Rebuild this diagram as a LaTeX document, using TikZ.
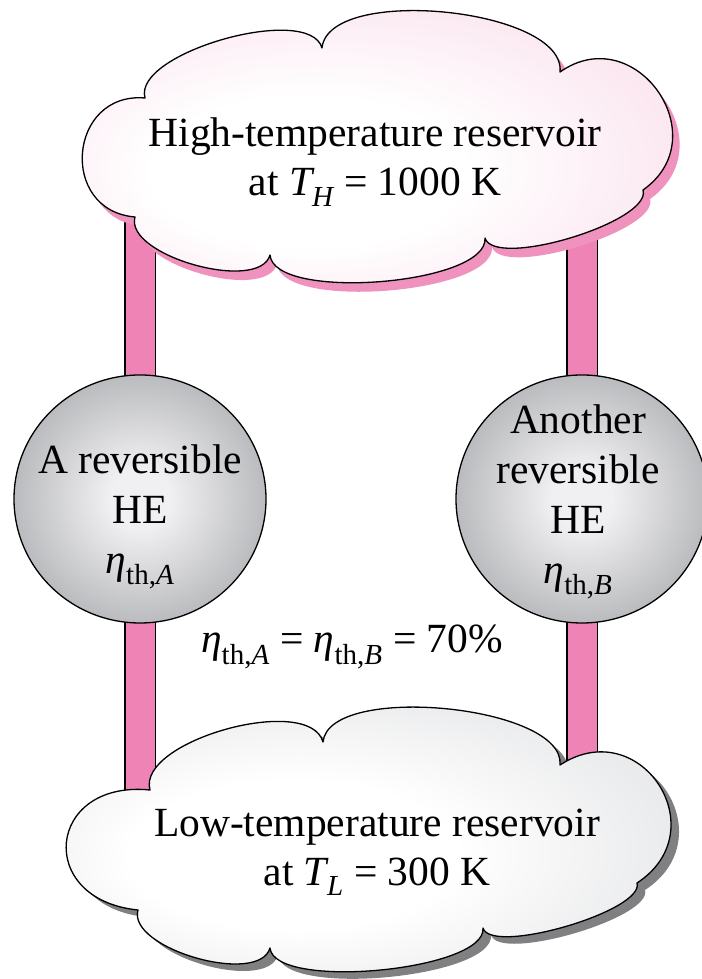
\documentclass[tikz,border=0pt]{standalone}
\usepackage{fontspec}
\setmainfont{Liberation Serif}
\usetikzlibrary{calc,shapes.geometric,backgrounds}

\definecolor{pipepink}{RGB}{240,131,181}
\definecolor{hotshadow}{RGB}{239,146,189}
\definecolor{hotedge}{RGB}{245,192,218}
\definecolor{coldshadow}{RGB}{128,128,130}
\definecolor{coldedge}{RGB}{198,200,204}
\definecolor{engcenter}{RGB}{240,240,242}
\definecolor{engedge}{RGB}{116,118,122}

\pgfdeclareradialshading{hotshade}{\pgfpoint{-8bp}{-6bp}}{color(0bp)=(white); color(12bp)=(white); color(50bp)=(hotedge)}
\pgfdeclareradialshading{coldshade}{\pgfpoint{-8bp}{-4bp}}{color(0bp)=(white); color(12bp)=(white); color(50bp)=(coldedge)}
\pgfdeclareradialshading{engshade}{\pgfpoint{0bp}{0bp}}{color(0bp)=(engcenter); color(6bp)=(engcenter); color(50bp)=(engedge)}

\newcommand{\hotpath}{(135,762) to[puff=40pt] (270,724) to[puff=47pt] (485,741) to[puff=33pt] (643,789) to[puff=92pt] (560,907) to[puff=64pt] (322,931) to[puff=47pt] (145,881) to[puff=77pt] (135,762) -- cycle}
\newcommand{\coldpath}{(138,69) to[puff=40pt] (270,31) to[puff=43pt] (483,51) to[puff=29pt] (637,96) to[puff=96pt] (560,214) to[puff=60pt] (323,237) to[puff=51pt] (150,189) to[puff=104pt] (138,69) -- cycle}

\begin{document}
\begin{tikzpicture}[x=1pt,y=1pt,
  puff/.style={to path={.. controls ($(\tikztostart)!#1!-90:(\tikztotarget)$) and ($(\tikztotarget)!#1!90:(\tikztostart)$) .. (\tikztotarget)}},
  reservoir/.style={draw=black,line width=1.3pt,line join=round},
  restext/.style={align=center,inner sep=0pt,font=\fontsize{41.5}{49}\selectfont},
  engine/.style={ellipse,draw=black,line width=1.3pt,minimum width=252pt,minimum height=248pt,inner sep=0pt,shade,shading=engshade},
  enginetext/.style={align=center,inner sep=0pt,font=\fontsize{41.5}{50}\selectfont},
  pipe/.style={draw=black,line width=1.4pt,double=pipepink,double distance=29pt}
]
  \useasboundingbox (0,0) rectangle (701,979);

  \fill[hotshadow,shift={(7,-9)}] \hotpath;
  \shade[reservoir,shading=hotshade] \hotpath;
  \node[restext] (hot) at (375,817) {High-temperature reservoir\\at {\itshape T}\textsubscript{\itshape H} = 1000 K};

  \fill[coldshadow,shift={(8,-7)}] \coldpath;
  \shade[reservoir,shading=coldshade] \coldpath;
  \node[restext] (cold) at (377,127) {Low-temperature reservoir\\at {\itshape T}\textsubscript{\itshape L} = 300 K};

  \node[engine] (heA) at (140,480) {};
  \node[engine] (heB) at (582,480) {};
  \node[enginetext] (nameA) at (140,462) {A reversible\\HE\\{\itshape η}\textsubscript{th,\itshape A}};
  \node[enginetext] (nameB) at (578,477) {Another\\reversible\\HE\\{\itshape η}\textsubscript{th,\itshape B}};

  \node[restext,anchor=base] (same) at (352,326) {{\itshape η}\textsubscript{th,\itshape A} = {\itshape η}\textsubscript{th,\itshape B} = 70\%};

  \begin{pgfonlayer}{background}
    \draw[pipe] (heA.center |- hot.center) -- (heA.center |- cold.center);
    \draw[pipe] (heB.center |- hot.center) -- (heB.center |- cold.center);
  \end{pgfonlayer}
\end{tikzpicture}
\end{document}
